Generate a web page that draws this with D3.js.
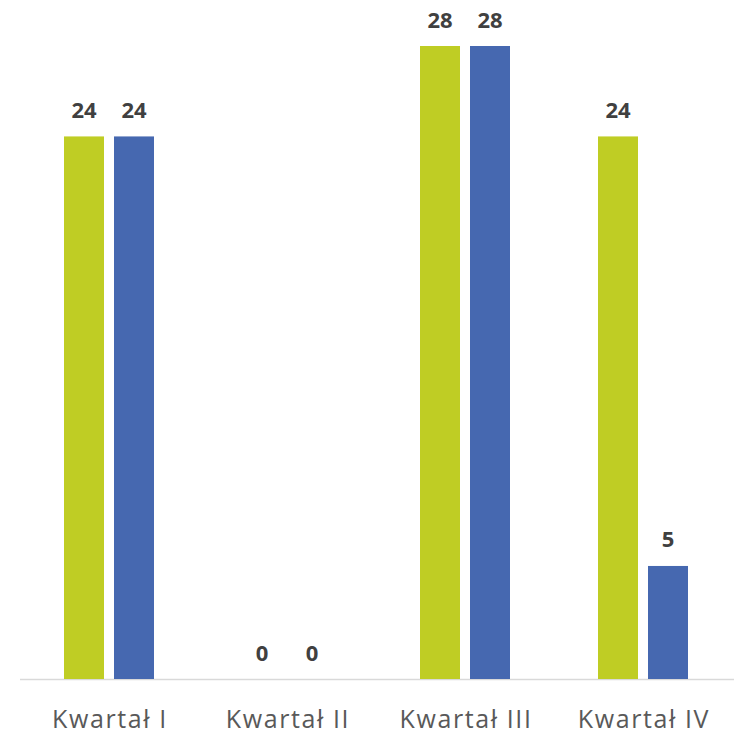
<!DOCTYPE html>
<html><head><meta charset="utf-8">
<script src="https://cdn.jsdelivr.net/npm/d3@7"></script>
<style>body{margin:0;background:#fff}</style>
</head><body>
<svg id="c" width="734" height="734"></svg>
<script>
const categories = ["Kwartał I", "Kwartał II", "Kwartał III", "Kwartał IV"];
const seriesNames = ["Seria 1", "Seria 2"];
const series1 = [24, 0, 28, 24];
const series2 = [24, 0, 28, 5];
const colors = ["#BFCD24", "#4668B0"];

(function(){
const svg = d3.select("#c");
const mLeft = 20, mRight = 732, baseline = 679, mTop = 46;
const x = d3.scaleBand().domain(categories).range([mLeft, mRight]).paddingInner(0).paddingOuter(0);
const y = d3.scaleLinear().domain([0, 28]).range([baseline, mTop]);
const barW = 40, gap = 10;
const x1 = d3.scaleBand().domain(seriesNames).range([0, barW*2+gap]).paddingInner(gap/(barW+gap)).paddingOuter(0);

const data = [series1, series2];

svg.append("line").attr("x1", mLeft).attr("x2", mRight + 2).attr("y1", baseline + 0.5).attr("y2", baseline + 0.5)
  .attr("stroke", "#d9d9d9").attr("stroke-width", 1.5);

data.forEach((vals, si) => {
  const g = svg.append("g");
  const bx = i => x(categories[i]) + x.bandwidth()/2 - (barW*2+gap)/2 + x1(seriesNames[si]);
  g.selectAll("rect").data(vals).join("rect")
    .attr("x", (d, i) => bx(i))
    .attr("y", d => y(d))
    .attr("width", x1.bandwidth())
    .attr("height", d => baseline - y(d))
    .attr("fill", colors[si]);
  g.selectAll("text").data(vals).join("text")
    .attr("x", (d, i) => bx(i) + x1.bandwidth()/2)
    .attr("y", d => y(d) - 18.5)
    .attr("text-anchor", "middle")
    .attr("font-family", "'Open Sans', sans-serif")
    .attr("font-weight", "bold")
    .attr("font-size", 22)
    .attr("fill", "#404040")
    .text(d => d);
});

svg.append("g").selectAll("text").data(categories).join("text")
  .attr("x", d => x(d) + x.bandwidth()/2 + 1)
  .attr("y", 728)
  .attr("text-anchor", "middle")
  .attr("font-family", "'Open Sans', sans-serif")
  .attr("font-size", 25)
  .attr("letter-spacing", 1.6)
  .attr("fill", "#595959")
  .text(d => d);
})();
</script>
</body></html>
